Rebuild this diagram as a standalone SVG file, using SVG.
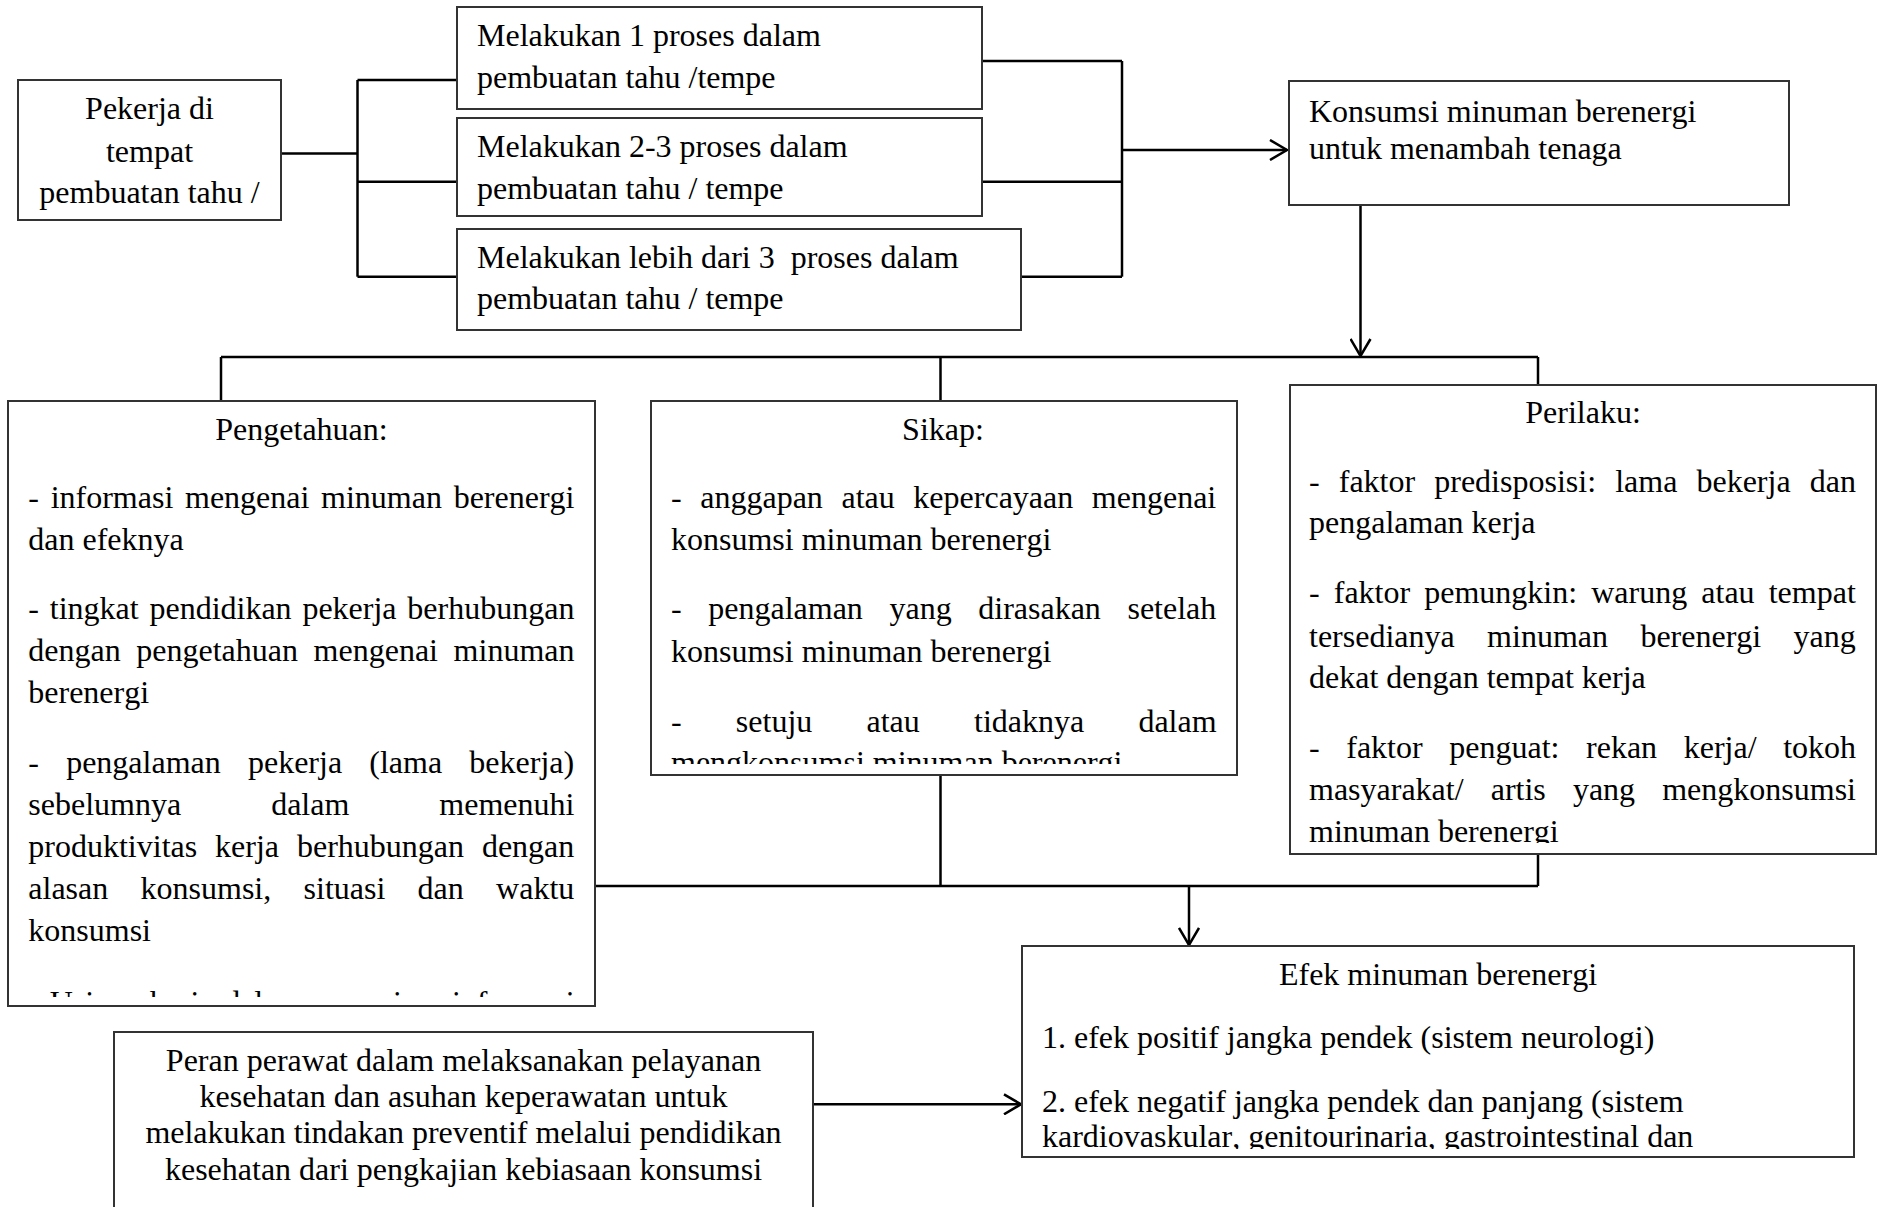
<svg xmlns="http://www.w3.org/2000/svg" width="1885" height="1207" viewBox="0 0 1885 1207">
<style>
text{font-family:"Liberation Serif","Times New Roman",serif;font-size:32px;fill:#000;font-kerning:none}
.box{fill:#fff;stroke:#333;stroke-width:2}
.c{text-anchor:middle}
.conn line,.conn path{stroke:#000;stroke-width:2.5;fill:none}
</style>
<defs>
<marker id="ah" viewBox="0 0 20 22" refX="18" refY="11" markerWidth="20" markerHeight="22" markerUnits="userSpaceOnUse" orient="auto">
<path d="M1,1 L18,11 L1,21" fill="none" stroke="#000" stroke-width="2.5"/>
</marker>
<clipPath id="cpPek"><rect x="18" y="80" width="263" height="140"/></clipPath>
<clipPath id="cpB1"><rect x="457" y="7" width="525" height="102"/></clipPath>
<clipPath id="cpB2"><rect x="457" y="118" width="525" height="98"/></clipPath>
<clipPath id="cpB3"><rect x="457" y="229" width="564" height="101"/></clipPath>
<clipPath id="cpKon"><rect x="1289" y="81" width="500" height="124"/></clipPath>
<clipPath id="cpPen"><rect x="8" y="401" width="587" height="596"/></clipPath>
<clipPath id="cpSik"><rect x="651" y="401" width="586" height="363"/></clipPath>
<clipPath id="cpPer"><rect x="1290" y="385" width="586" height="458"/></clipPath>
<clipPath id="cpEfe"><rect x="1022" y="946" width="832" height="203"/></clipPath>
<clipPath id="cpPrn"><rect x="114" y="1032" width="699" height="200"/></clipPath>
</defs>
<rect width="1885" height="1207" fill="#fff"/>

<g id="connectors" class="conn">
<line x1="281" y1="153.5" x2="357.5" y2="153.5"/>
<line x1="357.5" y1="80" x2="357.5" y2="276.7"/>
<line x1="357.5" y1="80" x2="457" y2="80"/>
<line x1="357.5" y1="181.7" x2="457" y2="181.7"/>
<line x1="357.5" y1="276.7" x2="457" y2="276.7"/>
<line x1="982" y1="61" x2="1122" y2="61"/>
<line x1="982" y1="181.7" x2="1122" y2="181.7"/>
<line x1="1021" y1="276.7" x2="1122" y2="276.7"/>
<line x1="1122" y1="61" x2="1122" y2="276.7"/>
<line x1="1122" y1="150" x2="1287" y2="150" marker-end="url(#ah)"/>
<line x1="1360.5" y1="205" x2="1360.5" y2="356" marker-end="url(#ah)"/>
<line x1="221" y1="357" x2="1538" y2="357"/>
<line x1="221" y1="357" x2="221" y2="401"/>
<line x1="940.5" y1="357" x2="940.5" y2="401"/>
<line x1="1538" y1="357" x2="1538" y2="385"/>
<line x1="940.5" y1="774" x2="940.5" y2="886"/>
<line x1="1538" y1="854" x2="1538" y2="886"/>
<line x1="595" y1="886" x2="1538" y2="886"/>
<line x1="1189" y1="886" x2="1189" y2="945" marker-end="url(#ah)"/>
<line x1="813" y1="1104.3" x2="1021" y2="1104.3" marker-end="url(#ah)"/>
</g>

<g id="node-pekerja">
<rect class="box" x="18" y="80" width="263" height="140"/>
<g clip-path="url(#cpPek)">
<text class="c" x="149.5" y="119">Pekerja di</text>
<text class="c" x="149.5" y="161.5">tempat</text>
<text class="c" x="149.5" y="203">pembuatan tahu /</text>
</g>
</g>

<g id="node-proses1">
<rect class="box" x="457" y="7" width="525" height="102"/>
<g clip-path="url(#cpB1)">
<text x="477" y="46">Melakukan 1 proses dalam</text>
<text x="477" y="87.5">pembuatan tahu /tempe</text>
</g>
</g>

<g id="node-proses2">
<rect class="box" x="457" y="118" width="525" height="98"/>
<g clip-path="url(#cpB2)">
<text x="477" y="157">Melakukan 2-3 proses dalam</text>
<text x="477" y="199">pembuatan tahu / tempe</text>
</g>
</g>

<g id="node-proses3">
<rect class="box" x="457" y="229" width="564" height="101"/>
<g clip-path="url(#cpB3)">
<text x="477" y="268">Melakukan lebih dari 3&#160; proses dalam</text>
<text x="477" y="309">pembuatan tahu / tempe</text>
</g>
</g>

<g id="node-konsumsi">
<rect class="box" x="1289" y="81" width="500" height="124"/>
<g clip-path="url(#cpKon)">
<text x="1309" y="122">Konsumsi minuman berenergi</text>
<text x="1309" y="158.5">untuk menambah tenaga</text>
</g>
</g>

<g id="node-pengetahuan">
<rect class="box" x="8" y="401" width="587" height="605"/>
<g clip-path="url(#cpPen)">
<text class="c" x="301.5" y="440">Pengetahuan:</text>
<text x="28.3" y="508.3" word-spacing="3.7">- informasi mengenai minuman berenergi</text>
<text x="28.3" y="550">dan efeknya</text>
<text x="28.3" y="619.3" word-spacing="2.8">- tingkat pendidikan pekerja berhubungan</text>
<text x="28.3" y="661" word-spacing="7.6">dengan pengetahuan mengenai minuman</text>
<text x="28.3" y="703">berenergi</text>
<text x="28.3" y="773" word-spacing="19.2">- pengalaman pekerja (lama bekerja)</text>
<text x="28.3" y="815" word-spacing="82">sebelumnya dalam memenuhi</text>
<text x="28.3" y="857" word-spacing="9.9">produktivitas kerja berhubungan dengan</text>
<text x="28.3" y="899" word-spacing="24.3">alasan konsumsi, situasi dan waktu</text>
<text x="28.3" y="941">konsumsi</text>
<text x="28.3" y="1013" word-spacing="2.8">- Usia pekerja dalam menerima informasi</text>
</g>
</g>

<g id="node-sikap">
<rect class="box" x="651" y="401" width="586" height="374"/>
<g clip-path="url(#cpSik)">
<text class="c" x="943" y="440">Sikap:</text>
<text x="671" y="508.3" word-spacing="10.6">- anggapan atau kepercayaan mengenai</text>
<text x="671" y="550">konsumsi minuman berenergi</text>
<text x="671" y="619.3" word-spacing="18.6">- pengalaman yang dirasakan setelah</text>
<text x="671" y="661.7">konsumsi minuman berenergi</text>
<text x="671" y="731.7" word-spacing="46.2">- setuju atau tidaknya dalam</text>
<text x="671" y="773">mengkonsumsi minuman berenergi</text>
</g>
</g>

<g id="node-perilaku">
<rect class="box" x="1290" y="385" width="586" height="469"/>
<g clip-path="url(#cpPer)">
<text class="c" x="1583" y="423.3">Perilaku:</text>
<text x="1309" y="491.7" word-spacing="11.1">- faktor predisposisi: lama bekerja dan</text>
<text x="1309" y="533.3">pengalaman kerja</text>
<text x="1309" y="603.3" word-spacing="6.1">- faktor pemungkin: warung atau tempat</text>
<text x="1309" y="646.7" word-spacing="24.4">tersedianya minuman berenergi yang</text>
<text x="1309" y="688.3">dekat dengan tempat kerja</text>
<text x="1309" y="758.3" word-spacing="18.6">- faktor penguat: rekan kerja/ tokoh</text>
<text x="1309" y="800" word-spacing="19.1">masyarakat/ artis yang mengkonsumsi</text>
<text x="1309" y="841.7">minuman berenergi</text>
</g>
</g>

<g id="node-efek">
<rect class="box" x="1022" y="946" width="832" height="211"/>
<g clip-path="url(#cpEfe)">
<text class="c" x="1438" y="985">Efek minuman berenergi</text>
<text x="1042" y="1048.3">1. efek positif jangka pendek (sistem neurologi)</text>
<text x="1042" y="1111.7">2. efek negatif jangka pendek dan panjang (sistem</text>
<text x="1042" y="1147">kardiovaskular, genitourinaria, gastrointestinal dan</text>
</g>
</g>

<g id="node-peran">
<rect class="box" x="114" y="1032" width="699" height="200"/>
<g clip-path="url(#cpPrn)">
<text class="c" x="463.5" y="1070.7">Peran perawat dalam melaksanakan pelayanan</text>
<text class="c" x="463.5" y="1107">kesehatan dan asuhan keperawatan untuk</text>
<text class="c" x="463.5" y="1143.3">melakukan tindakan preventif melalui pendidikan</text>
<text class="c" x="463.5" y="1180">kesehatan dari pengkajian kebiasaan konsumsi</text>
</g>
</g>
</svg>
